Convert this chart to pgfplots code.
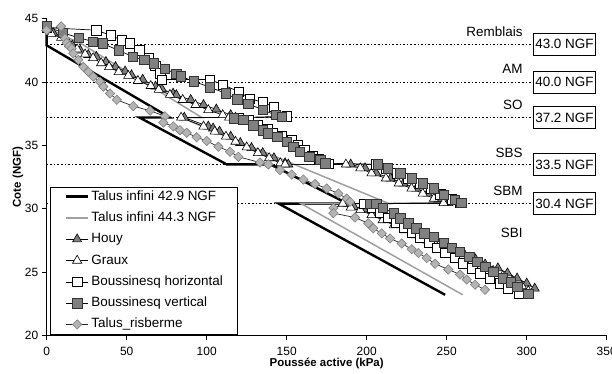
\documentclass[border=0pt]{standalone}
\usepackage{pgfplots}
\pgfplotsset{compat=1.18}
\usepackage{fontspec}
\setmainfont{Liberation Sans}
\definecolor{mgray}{HTML}{7F7F7F}
\definecolor{lgray}{HTML}{B4B4B4}
\definecolor{tgray}{HTML}{A0A0A0}
\definecolor{dgray}{HTML}{808080}
\newcommand\fs[1]{\fontsize{#1}{#1}\selectfont}
\begin{document}
\begin{tikzpicture}
\begin{axis}[
  width=560bp, height=316.5bp, scale only axis,
  xmin=0, xmax=350, ymin=20, ymax=45,
  xtick={0,50,...,350}, ytick={20,25,...,45},
  axis x line*=bottom, axis y line*=left,
  tick align=outside, major tick length=5bp,
  tick style={black, line width=0.7bp},
  axis line style={black, line width=0.8bp},
  ticklabel style={font=\fs{12}},
  xticklabel style={yshift=-3bp},
  /pgf/number format/assume math mode=true,
  xlabel={Poussée active (kPa)}, ylabel={Cote (NGF)},
  every axis x label/.style={at={(axis description cs:0.5,-0.0875)}, anchor=center, font=\bfseries\fs{11.5}},
  every axis y label/.style={at={(axis description cs:-0.0513,0.5)}, anchor=center, rotate=90, font=\bfseries\fs{11.5}},
  clip=false,
  legend style={at={(axis description cs:0.006,0.003)}, anchor=south west,
    draw=black, line width=0.8bp, fill=white, font=\fs{13.5},
    inner xsep=14.5bp, inner ysep=3bp, row sep=8.3bp, column sep=2bp,
    nodes={inner sep=0bp, text height=10bp, text depth=3bp}},
  legend cell align=left,
  legend image code/.code={\draw[mark repeat=2,mark phase=2,#1] plot coordinates {(0bp,0bp) (11bp,0bp) (22bp,0bp)};},
]
% layer boundaries
\addplot[black, line width=0.8bp, dash pattern=on 1.6bp off 2bp, forget plot] coordinates {(0,43.0) (304,43.0)};
\addplot[black, line width=0.8bp, dash pattern=on 1.6bp off 2bp, forget plot] coordinates {(0,40.0) (304,40.0)};
\addplot[black, line width=0.8bp, dash pattern=on 1.6bp off 2bp, forget plot] coordinates {(0,37.2) (304,37.2)};
\addplot[black, line width=0.8bp, dash pattern=on 1.6bp off 2bp, forget plot] coordinates {(0,33.5) (304,33.5)};
\addplot[black, line width=0.8bp, dash pattern=on 1.6bp off 2bp, forget plot] coordinates {(0,30.4) (304,30.4)};

% Talus infini 42.9 NGF
\addplot[black, line width=2.4bp, no marks] coordinates {
(0,44.3) (0,42.9) (77,37.2) (58,37.2) (112.5,33.5) (140,33.5) (188,30.4) (145,30.4) (249,23.2)};
\addlegendentry{Talus infini 42.9 NGF}

% Talus infini 44.3 NGF
\addplot[tgray, line width=1.5bp, no marks] coordinates {
(0,44.3) (22,43.0) (97,37.2) (84,37.2) (214,30.4) (159,30.4) (260,23.2)};
\addlegendentry{Talus infini 44.3 NGF}

% Houy
\addplot[black, line width=0.7bp, mark=triangle*, mark size=5.3bp, mark options={fill=mgray, draw=black, line width=0.6bp}] coordinates {
(0,44.3) (4,43.9) (10,43.6) (16,42.9) (21,42.5) (26,42.15) (31,42.0) (37,41.6) (43,41.2) (49,40.85) (53,40.55) (60,40.2) (68,39.65) (72,39.45) (79,39.1) (81,38.98) (90,38.6) (98,38.2) (106,37.85) (115,37.4) (118,37.2)
(86,37.2) (101,36.5) (104,36.35) (108,36.1) (115,35.7) (121,35.2) (128,34.8) (135,34.4) (142,34.0) (149,33.6) (151,33.5)
(190,33.5) (199,33.2) (206,32.8) (215,32.4) (223,32.0) (231,31.6) (238,31.2) (245,30.8) (251,30.45)
(188,30.4) (192,30.15) (198,30.0) (205,29.6) (212,29.2) (219,28.8) (226,28.4) (233,28.0) (240,27.6) (247,27.2) (254,26.8) (261,26.4) (268,26.0) (274,25.6) (282,25.3) (288,24.9) (294,24.5) (300,24.1) (305,23.7)};
\addlegendentry{Houy}

% Graux
\addplot[black, line width=0.7bp, mark=triangle*, mark size=5.3bp, mark options={fill=white, draw=black, line width=0.6bp}] coordinates {
(0,44.3) (3,43.8) (9,43.5) (14,43.0) (19,42.6) (24,42.2) (29,41.9) (34,41.5) (39,41.2) (45,40.8) (51,40.5) (57,40.1) (65,39.7) (70,39.4) (77,39.0) (85,38.6) (93,38.2) (101,37.8) (110,37.4) (114,37.2)
(84,37.2) (98,36.5) (105,36.1) (112,35.7) (118,35.3) (125,34.85) (132,34.4) (139,34.0) (146,33.6) (149,33.5)
(187,33.5) (196,33.2) (203,32.8) (212,32.4) (220,32.0) (228,31.6) (235,31.2) (242,30.8) (248,30.45)
(185,30.4) (190,30.1) (196,29.9) (203,29.5) (210,29.1) (217,28.7) (224,28.3) (231,27.9) (238,27.5) (245,27.1) (252,26.7) (259,26.3) (266,25.9) (272,25.5) (279,25.1) (285,24.7) (291,24.3) (297,23.9) (301,23.5)};
\addlegendentry{Graux}

% Boussinesq horizontal
\addplot[black, line width=0.7bp, mark=square*, mark size=4.7bp, mark options={fill=white, draw=black, line width=0.6bp}] coordinates {
(0,44.3) (31,44.1) (40,43.7) (47,43.3) (52,43.05) (58,42.5) (64,41.9) (68,41.3) (71,40.7) (72,40.2)
(102,40.2) (110,39.8) (120,39.25) (127,38.7) (135,38.4) (142,38.05) (150,37.3)
(120,37.2) (126,37.0) (132,36.6) (138,36.3) (141,36.0) (147,35.75) (153,35.4) (157,35.0) (161,34.6) (166,34.2) (170,33.9) (176,33.55)
(206,33.5) (212,33.2) (219,32.8) (226,32.4) (233,32.0) (240,31.6) (246,31.15) (253,30.75) (258,30.45)
(198,30.4) (203,30.1) (208,29.7) (213,29.3) (218,28.9) (223,28.5) (228,28.1) (233,27.7) (239,27.3) (244,26.9) (249,26.5) (255,26.1) (260,25.7) (266,25.3) (271,24.9) (277,24.5) (283,24.1) (288,23.7) (295,23.3)};
\addlegendentry{Boussinesq horizontal}

% Boussinesq vertical
\addplot[black, line width=0.7bp, mark=square*, mark size=4.7bp, mark options={fill=dgray, draw=black!80, line width=0.6bp}] coordinates {
(0,44.4) (10,43.9) (20,43.5) (29,43.2) (35,43.05) (45,42.5) (54,42.0) (61,41.75) (67,41.5) (74,41.05) (81,40.65) (84,40.45) (92,40.05) (102,39.6) (112,39.1) (119,38.65) (126,38.3) (135,37.8) (143,37.4) (147,37.25)
(117,37.15) (123,37.0) (129,36.6) (135,36.2) (138,35.95) (144,35.7) (150,35.3) (154,34.9) (158,34.5) (164,34.1) (171,33.85) (174,33.6)
(207,33.5) (213,33.2) (221,32.8) (228,32.4) (235,32.0) (242,31.6) (248,31.1) (255,30.7) (259,30.45)
(202,30.4) (206,30.4) (210,30.05) (217,29.65) (221,29.25) (226,28.85) (231,28.45) (236,28.05) (242,27.8) (248,27.3) (253,26.9) (258,26.6) (264,26.2) (269,25.8) (274,25.4) (279,25.0) (285,24.5) (290,24.2) (294,23.85) (301,23.3)};
\addlegendentry{Boussinesq vertical}

% Talus_risberme
\addplot[black!85, line width=0.7bp, mark=square*, mark size=3.3bp, mark options={rotate=45, fill=lgray, draw=dgray, line width=0.6bp}] coordinates {
(0,44.1) (9,44.4) (11.4,43.45) (12.5,43.1) (14,42.85) (15.6,42.65) (16.6,42.27) (19.8,41.75) (22.9,41.2) (26,40.82) (29.1,40.43) (33.3,40.03) (35.4,39.64) (39.6,39.1) (43.8,38.6) (54.1,38.1) (64.6,37.74) (73.9,37.3)
(72.9,36.8) (79.1,36.5) (83.3,36.2) (87.5,36.0) (93.7,35.65) (100,35.35) (107.3,34.9) (114.6,34.5) (119.8,34.1) (133.3,33.65) (138.5,33.5)
(145.8,33.05) (153.1,32.7) (160.4,32.3) (167.7,31.95) (175,31.6) (182.3,31.2) (187.5,30.8) (189.6,30.55)
(179.2,30.05) (179.2,29.65) (192.7,29.3) (201,28.85) (204.1,28.45) (209.4,28.05) (214.6,27.65) (221.9,27.25) (228.1,26.8) (232.3,26.5) (237.5,26.1) (242.7,25.65) (251,25.2) (258.3,24.8) (262.5,24.4) (267.7,24.0) (273.9,23.6)};
\addlegendentry{Talus\_risberme}

% layer labels
\node[anchor=base east, inner sep=0pt, font=\fs{13.5}] at (axis cs:297.5,43.64) {Remblais};
\node[anchor=base east, inner sep=0pt, font=\fs{13.5}] at (axis cs:297.5,40.64) {AM};
\node[anchor=base east, inner sep=0pt, font=\fs{13.5}] at (axis cs:297.5,37.80) {SO};
\node[anchor=base east, inner sep=0pt, font=\fs{13.5}] at (axis cs:297.5,34.03) {SBS};
\node[anchor=base east, inner sep=0pt, font=\fs{13.5}] at (axis cs:297.5,31.03) {SBM};
\node[anchor=base east, inner sep=0pt, font=\fs{13.5}] at (axis cs:297.5,27.74) {SBI};
% level boxes
\tikzset{lvl/.style={draw=black, line width=0.8bp, fill=white, anchor=west, font=\fs{13.5}, inner xsep=1.8bp, inner ysep=0bp, minimum height=22bp}}
\node[lvl] at (axis cs:304,43.0) {43.0 NGF};
\node[lvl] at (axis cs:304,40.0) {40.0 NGF};
\node[lvl] at (axis cs:304,37.2) {37.2 NGF};
\node[lvl] at (axis cs:304,33.5) {33.5 NGF};
\node[lvl] at (axis cs:304,30.4) {30.4 NGF};
\end{axis}
\pgfresetboundingbox
\useasboundingbox (-46.7bp,-38.7bp) rectangle (565.3bp,335.3bp);
\end{tikzpicture}
\end{document}
